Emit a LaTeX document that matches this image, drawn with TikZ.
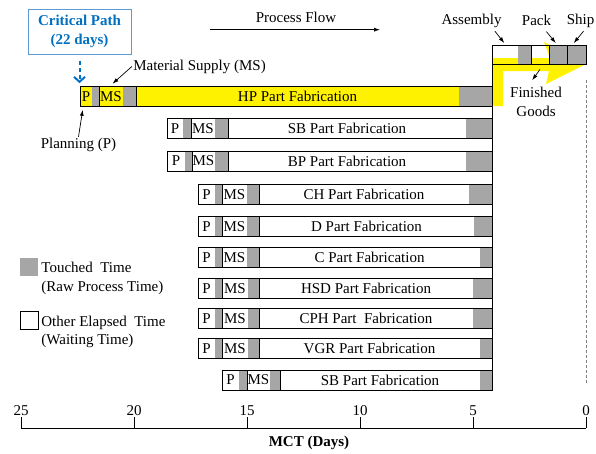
\documentclass[tikz,border=0pt]{standalone}
\usepackage{fontspec}
\setmainfont{Liberation Serif}
\usetikzlibrary{arrows.meta}
\definecolor{touch}{RGB}{166,166,166}
\definecolor{critblue}{RGB}{0,112,192}
\definecolor{critedge}{RGB}{91,155,213}

\begin{document}
\begin{tikzpicture}[x=1pt, y=-1pt, line width=0.8pt, inner sep=1pt,
    font=\fontsize{15}{19}\selectfont,
    >={Latex[length=6pt,width=4pt]},
    lbl/.style={->, line width=0.7pt, shorten >=2pt},
    cell/.style={draw, minimum height=19pt, inner sep=0pt},
    keybox/.style={minimum width=18pt, minimum height=18pt, inner sep=0pt},
    critbox/.style={draw=critedge, line width=1pt, text=critblue, align=center,
        font=\fontsize{15}{19}\selectfont\bfseries, minimum width=103pt, minimum height=45pt},
    critarrow/.style={critblue, line width=2pt, dash pattern=on 4pt off 3pt,
        -{Straight Barb[length=5pt,width=11pt]}, shorten <=6pt, shorten >=7pt}]
    \useasboundingbox (0,0) rectangle (596,453);

    \node (flow) at (296,17) {Process Flow};
    \draw[->, line width=0.7pt] ([shift={(-86,6)}]flow.south) -- ([shift={(84,6)}]flow.south);

    \fill[yellow] (493,106) -- (493,58) -- (550,58) -- (544,42) -- (586,64) -- (546,84)
        -- (549,71) -- (503,71) -- (503,106) -- cycle;
    \fill[touch] (518,45) rectangle (531,64);
    \node[cell, minimum width=39pt] (asmcell) at (511.5,54.5) {};
    \node[cell, minimum width=18pt] (fgcell) at (540,54.5) {};
    \node[cell, minimum width=18pt, fill=touch] (packcell) at (558,54.5) {};
    \node[cell, minimum width=19pt, fill=touch] (shipcell) at (576.5,54.5) {};

    \foreach \nm/\tp/\lx/\ga/\gb/\gc/\gd/\rg/\fc/\txt in {
        hp/86.5/80/92/99/123/136/459/yellow/HP Part Fabrication,
        sb/118.3/167/183/191/215/228/466/white/SB Part Fabrication,
        bp/151/167/185/192/215/228/466/white/BP Part Fabrication,
        ch/184.3/198/215/222/247/259/469/white/CH Part Fabrication,
        d/216.7/198/215/222/247/259/474/white/D Part Fabrication,
        c/247.3/198/215/222/247/259/480/white/C Part Fabrication,
        hsd/278.3/198/215/222/248/259/473/white/HSD Part Fabrication,
        cph/308.3/198/215/222/248/259/473/white/CPH Part~ Fabrication,
        vgr/338.3/198/215/222/248/259/480/white/VGR Part Fabrication,
        sbb/370/222/239/247/270/280/480/white/SB Part Fabrication}{
        \fill[\fc] (\lx,\tp) rectangle (492,\tp+20);
        \fill[touch] (\ga,\tp) rectangle (\gb,\tp+20);
        \fill[touch] (\gc,\tp) rectangle (\gd,\tp+20);
        \fill[touch] (\rg,\tp) rectangle (492,\tp+20);
        \draw (\lx,\tp) rectangle (492,\tp+20);
        \draw (\gb,\tp) -- (\gb,\tp+20) (\gd,\tp) -- (\gd,\tp+20);
        \node (\nm-p) at ({(\lx+\ga)/2},\tp+10) {P};
        \node (\nm-ms) at ({(\gb+\gc)/2},\tp+10) {MS};
        \node (\nm) at ({(\gd+\rg)/2},\tp+10) {\txt};
    }
    \draw (492,45) -- (492,390);
    \draw[gray, line width=0.6pt, dash pattern=on 3pt off 2pt] (586,80) -- (586,383);

    \node[critbox] (crit) at (79.5,31.5) {Critical Path\\(22 days)};
    \draw[critarrow] (crit.south) -- (crit.south |- hp-p.north);

    \node (matsup) at (199.5,66.5) {Material Supply (MS)};
    \draw[lbl] (matsup.west) -- ([yshift=5pt]hp-ms.north);
    \node (plan) at (78.5,145) {Planning (P)};
    \draw[lbl] (plan.north) -- ([shift={(-3,5)}]hp-p.south);

    \node (asm) at (471.5,21) {Assembly};
    \draw[lbl] ([shift={(-8,2)}]asm.south east) -- ([xshift=-6pt]asmcell.north);
    \node (pack) at (536.5,20) {Pack};
    \draw[lbl] ([shift={(-6,5)}]pack.south east) -- ([xshift=-1pt]packcell.north);
    \node (ship) at (580.5,21) {Ship};
    \draw[lbl] ([shift={(3,2)}]ship.south) -- ([xshift=-4pt]shipcell.north);
    \node[align=center] (fg) at (536,102) {Finished\\Goods};
    \draw[lbl] ([yshift=-5pt]fgcell.south) -- ([shift={(-5,-4)}]fg.north);

    \node[keybox, fill=touch] (touchkey) at (29,266.5) {};
    \node[anchor=base west] (touched) at (40,272) {Touched~ Time};
    \node[anchor=base west] (touchedsub) at (40,291) {(Raw Process Time)};
    \node[keybox, draw] (waitkey) at (29,320.5) {};
    \node[anchor=base west] (waited) at (40,326) {Other Elapsed~ Time};
    \node[anchor=base west] (waitedsub) at (40,344) {(Waiting Time)};

    \draw (21,428) -- (586,428);
    \foreach \d in {0,5,...,25}
        \draw (586-22.6*\d,428) -- ++(0,-11) node[above] (t\d) {\d};
    \node[font=\fontsize{15}{19}\selectfont\bfseries] (mct) at (309,443) {MCT (Days)};
\end{tikzpicture}
\end{document}
